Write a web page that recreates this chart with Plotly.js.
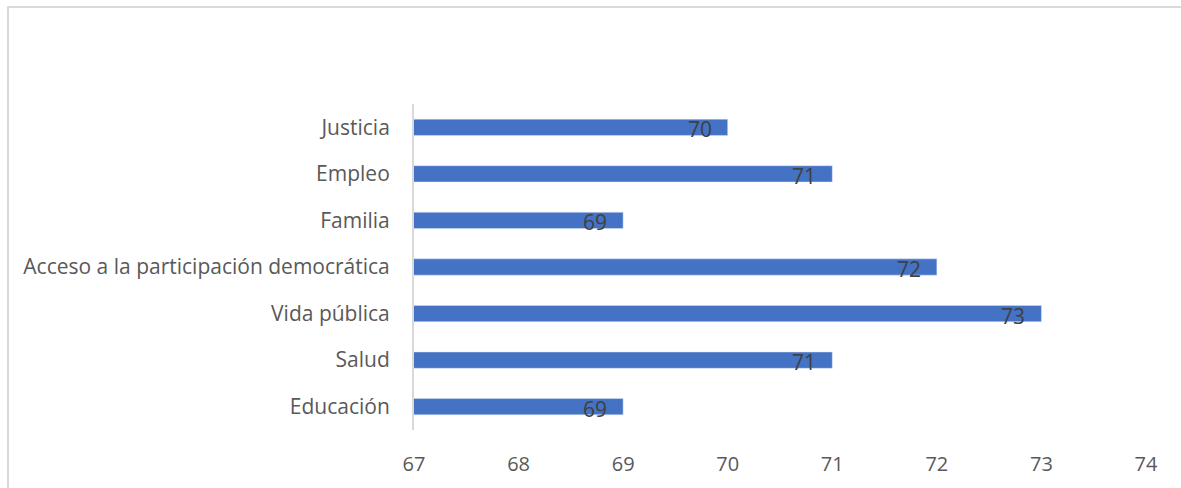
<!DOCTYPE html>
<html>
<head>
<meta charset="utf-8">
<script src="https://cdn.plot.ly/plotly-3.0.1.min.js"></script>
<style>
  html, body { margin: 0; padding: 0; background: #fff; }
  #wrap { position: relative; width: 1181px; height: 488px; overflow: hidden; }
  #chart { width: 1181px; height: 488px; }
  #frame { position: absolute; left: 7px; top: 6px; width: 1400px; height: 700px;
           border-left: 2px solid #d9d9d9; border-top: 2px solid #d9d9d9; pointer-events: none; }
</style>
</head>
<body>
<div id="wrap">
  <div id="chart"></div>
  <div id="frame"></div>
</div>
<script>
const categories = ["Educación", "Salud", "Vida pública", "Acceso a la participación democrática", "Familia", "Empleo", "Justicia"];
const values = [69, 71, 73, 72, 69, 71, 70];
const xTicks = [67, 68, 69, 70, 71, 72, 73, 74];

const FONT = "'Open Sans', sans-serif";

const trace = {
  type: "bar",
  orientation: "h",
  y: categories,
  x: values,
  marker: { color: "#4472C4", line: { color: "#dce6f4", width: 0.5 } },
  width: 0.35,
  hoverinfo: "none"
};

const annotations = values.map((v, i) => ({
  x: v, y: categories[i], xref: "x", yref: "y",
  text: String(v), showarrow: false,
  xanchor: "right", yanchor: "middle",
  xshift: -14, yshift: -2,
  font: { family: FONT, size: 21, color: "#404040" }
}));

const layout = {
  width: 1181, height: 488,
  margin: { l: 414, r: 35, t: 104, b: 58 },
  paper_bgcolor: "#fff", plot_bgcolor: "#fff",
  showlegend: false,
  bargap: 0.65,
  xaxis: {
    range: [67, 74],
    tickvals: xTicks,
    ticktext: xTicks.map(String),
    showgrid: false, zeroline: false, showline: false,
    ticks: "outside", ticklen: 16, tickcolor: "rgba(0,0,0,0)",
    tickfont: { family: FONT, size: 20, color: "#595959" },
    fixedrange: true
  },
  yaxis: {
    type: "category",
    categoryorder: "array", categoryarray: categories,
    range: [-0.5, 6.5],
    showgrid: false, zeroline: false,
    showline: true, linecolor: "#d9d9d9", linewidth: 2,
    ticks: "outside", ticklen: 18, tickcolor: "rgba(0,0,0,0)",
    tickfont: { family: FONT, size: 21, color: "#595959" },
    fixedrange: true
  },
  annotations: annotations
};

Plotly.newPlot("chart", [trace], layout, { displayModeBar: false, staticPlot: true });
</script>
</body>
</html>
